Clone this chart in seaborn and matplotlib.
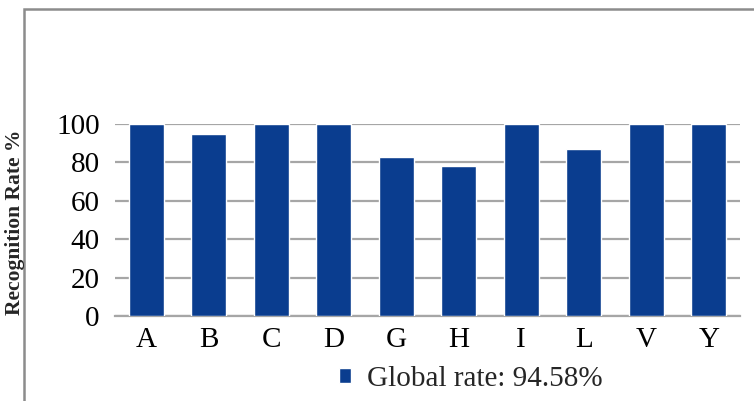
import matplotlib
matplotlib.use("Agg")
import matplotlib.pyplot as plt
from matplotlib.patches import Rectangle
import seaborn as sns
import pandas as pd

letters = ["A", "B", "C", "D", "G", "H", "I", "L", "V", "Y"]
rates = [100, 95, 100, 100, 82.7, 78.3, 100, 87, 100, 100]
series_label = "Global rate: 94.58%"
yticks = [0, 20, 40, 60, 80, 100]

bar_color = "#0A3D8F"
grid_color = "#A6A6A6"

sns.set_theme(style="white")
plt.rcParams["font.family"] = ["Liberation Serif", "DejaVu Serif"]

df = pd.DataFrame({"letter": letters, "rate": rates})

fig = plt.figure(figsize=(7.54, 4.01), dpi=100)
ax = fig.add_axes([115 / 754, 1 - 316 / 401, (740 - 115) / 754, (316 - 124) / 401])

sns.barplot(data=df, x="letter", y="rate", color=bar_color, saturation=1,
            width=0.56, ax=ax, label=series_label, zorder=3)
if ax.get_legend() is not None:
    ax.get_legend().remove()

ax.set_ylim(0, 100)
ax.set_yticks(yticks)
ax.set_xlim(-0.5, len(letters) - 0.5)
ax.set_xlabel("")
ax.set_ylabel("")
for s in ["top", "right", "left"]:
    ax.spines[s].set_visible(False)
ax.spines["bottom"].set_color(grid_color)
ax.spines["bottom"].set_linewidth(1.6)
ax.yaxis.grid(True, color=grid_color, linewidth=1.6, zorder=0)
ax.set_axisbelow(True)
ax.tick_params(axis="y", length=0, pad=11, labelsize=21, colors="black")
ax.tick_params(axis="x", length=0, pad=8, labelsize=21, colors="black")
for sp in ax.spines.values():
    sp.set_clip_on(False)

fig.text(15 / 754, 1 - 222 / 401, "Recognition Rate %", rotation=90,
         ha="center", va="center", fontsize=15.5, fontweight="bold")

handles, labels = ax.get_legend_handles_labels()
fig.legend(handles, labels, loc="center", bbox_to_anchor=(471 / 754, 1 - 379 / 401),
           frameon=False, fontsize=21, handlelength=0.4, handleheight=0.4,
           handletextpad=0.55, borderpad=0)

# outer chart frame
fig.patches.append(Rectangle((24 / 754, -0.2), 1.2, 1.2 - 9 / 401,
                             transform=fig.transFigure, fill=False,
                             edgecolor="#8C8C8C", linewidth=1.8))

fig.savefig("out.png", dpi=100)
